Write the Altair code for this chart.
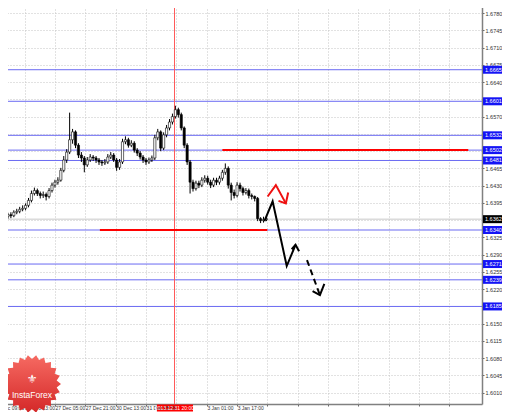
import math
import altair as alt
import pandas as pd

# ---------------- data ----------------
opens = [1.6365, 1.6367, 1.6371, 1.6369, 1.6376, 1.6378, 1.6382, 1.6384, 1.6390, 1.6400,
         1.6414, 1.6420, 1.6414, 1.6410, 1.6412, 1.6408, 1.6420, 1.6431, 1.6437, 1.6441,
         1.6461, 1.6482, 1.6498, 1.6523, 1.6539, 1.6512, 1.6492, 1.6486, 1.6472, 1.6482,
         1.6488, 1.6486, 1.6482, 1.6478, 1.6476, 1.6478, 1.6488, 1.6492, 1.6482, 1.6467,
         1.6478, 1.6519, 1.6523, 1.6512, 1.6516, 1.6502, 1.6496, 1.6488, 1.6482, 1.6478,
         1.6482, 1.6486, 1.6527, 1.6539, 1.6506, 1.6533, 1.6547, 1.6559, 1.6570, 1.6584,
         1.6574, 1.6547, 1.6512, 1.6478, 1.6437, 1.6424, 1.6435, 1.6431, 1.6441, 1.6445,
         1.6437, 1.6431, 1.6441, 1.6437, 1.6445, 1.6457, 1.6465, 1.6431, 1.6416, 1.6410,
         1.6431, 1.6424, 1.6416, 1.6420, 1.6410, 1.6408, 1.6404, 1.6363, 1.6359, 1.6361]
closes = [1.6367, 1.6371, 1.6369, 1.6376, 1.6378, 1.6382, 1.6384, 1.6390, 1.6400, 1.6414,
          1.6420, 1.6414, 1.6410, 1.6412, 1.6408, 1.6420, 1.6431, 1.6437, 1.6441, 1.6461,
          1.6482, 1.6498, 1.6523, 1.6539, 1.6512, 1.6492, 1.6486, 1.6472, 1.6482, 1.6488,
          1.6486, 1.6482, 1.6478, 1.6476, 1.6478, 1.6488, 1.6492, 1.6482, 1.6467, 1.6478,
          1.6519, 1.6523, 1.6512, 1.6516, 1.6502, 1.6496, 1.6488, 1.6482, 1.6478, 1.6482,
          1.6486, 1.6527, 1.6539, 1.6506, 1.6533, 1.6547, 1.6559, 1.6570, 1.6584, 1.6574,
          1.6547, 1.6512, 1.6478, 1.6437, 1.6424, 1.6435, 1.6431, 1.6441, 1.6445, 1.6437,
          1.6431, 1.6441, 1.6437, 1.6445, 1.6457, 1.6465, 1.6431, 1.6416, 1.6410, 1.6431,
          1.6424, 1.6416, 1.6420, 1.6410, 1.6408, 1.6404, 1.6363, 1.6359, 1.6361, 1.6363]
highs = [1.6372, 1.6375, 1.6376, 1.6380, 1.6383, 1.6387, 1.6390, 1.6394, 1.6405, 1.6420,
         1.6426, 1.6424, 1.6418, 1.6418, 1.6416, 1.6425, 1.6436, 1.6442, 1.6447, 1.6466,
         1.6490, 1.6504, 1.6578, 1.6545, 1.6542, 1.6516, 1.6498, 1.6490, 1.6488, 1.6494,
         1.6492, 1.6490, 1.6486, 1.6482, 1.6484, 1.6494, 1.6498, 1.6496, 1.6486, 1.6484,
         1.6525, 1.6530, 1.6527, 1.6522, 1.6520, 1.6506, 1.6500, 1.6492, 1.6486, 1.6487,
         1.6491, 1.6533, 1.6545, 1.6542, 1.6538, 1.6553, 1.6565, 1.6576, 1.6592, 1.6588,
         1.6578, 1.6550, 1.6516, 1.6482, 1.6442, 1.6440, 1.6440, 1.6447, 1.6451, 1.6450,
         1.6442, 1.6446, 1.6446, 1.6450, 1.6462, 1.6475, 1.6469, 1.6436, 1.6422, 1.6437,
         1.6436, 1.6428, 1.6425, 1.6424, 1.6414, 1.6410, 1.6407, 1.6366, 1.6367, 1.6366]
lows = [1.6360, 1.6363, 1.6364, 1.6366, 1.6372, 1.6374, 1.6378, 1.6380, 1.6386, 1.6396,
        1.6410, 1.6409, 1.6404, 1.6405, 1.6400, 1.6404, 1.6416, 1.6426, 1.6432, 1.6438,
        1.6457, 1.6476, 1.6494, 1.6515, 1.6506, 1.6486, 1.6478, 1.6457, 1.6468, 1.6478,
        1.6480, 1.6476, 1.6472, 1.6470, 1.6472, 1.6474, 1.6484, 1.6478, 1.6460, 1.6462,
        1.6474, 1.6514, 1.6507, 1.6508, 1.6497, 1.6490, 1.6483, 1.6476, 1.6472, 1.6474,
        1.6478, 1.6482, 1.6522, 1.6500, 1.6502, 1.6528, 1.6542, 1.6554, 1.6566, 1.6568,
        1.6542, 1.6506, 1.6472, 1.6414, 1.6418, 1.6420, 1.6425, 1.6427, 1.6436, 1.6432,
        1.6425, 1.6427, 1.6431, 1.6432, 1.6440, 1.6452, 1.6424, 1.6400, 1.6404, 1.6406,
        1.6418, 1.6410, 1.6412, 1.6404, 1.6402, 1.6398, 1.6358, 1.6354, 1.6355, 1.6358]

# horizontal levels (blue) with their price boxes
level_prices = [1.6665, 1.6601, 1.6532, 1.6502, 1.6481, 1.6340, 1.6271, 1.6239, 1.6185]
level_labels = ["1.6665", "1.6601", "1.6532", "1.6502", "1.6481", "1.6340", "1.6271", "1.6239", "1.6185"]
bid_price = 1.6362
bid_label = "1.6362"

# red support / resistance segments (bar index start, end, price)
red_start = [74.0, 32.3]
red_end = [157.7, 89.3]
red_price = [1.6502, 1.6340]

# red vertical marker (bar index) and its date label
marker_bar = 57.7
marker_label = "2013.12.31 20:00"
marker_box = [51.7, 64.0]

# forecast paths (bar index, price)
red_arrow_x = [89.4, 92.2, 95.6]
red_arrow_p = [1.6408, 1.6431, 1.6394]
red_head_x = [93.1, 95.6, 96.4]
red_head_p = [1.6399, 1.6394, 1.6416]
black_x = [88.3, 91.1, 95.9, 98.9]
black_p = [1.6358, 1.6398, 1.6267, 1.6310]
black_head_x = [97.6, 98.9, 100.1]
black_head_p = [1.6301, 1.6310, 1.6297]
dash_x = [102.8, 107.2]
dash_p = [1.6279, 1.6208]
dash_head_x = [104.7, 107.2, 108.7]
dash_head_p = [1.6216, 1.6208, 1.6231]

# axis ticks / labels
y_ticks = [1.6780, 1.6745, 1.6710, 1.6675, 1.6640, 1.6605, 1.6570, 1.6535, 1.6500,
           1.6465, 1.6430, 1.6395, 1.6360, 1.6325, 1.6290, 1.6255, 1.6220, 1.6185,
           1.6150, 1.6115, 1.6080, 1.6045, 1.6010]
x_grid = [6.7, 17.0, 27.3, 37.7, 48.0, 58.3, 68.7, 79.0, 89.3, 99.7, 110.0,
          120.3, 130.7, 141.0, 151.3]
x_label_text = ["24 Dec 09:00", "26 Dec 13:00", "27 Dec 05:00", "27 Dec 21:00",
                "30 Dec 13:00", "31 Dec 05:00", "3 Jan 01:00", "3 Jan 17:00"]
x_label_pos = [-3.6, 6.9, 17.2, 27.5, 37.9, 48.2, 68.9, 79.2]

# ---------------- build chart ----------------
FONT = "Liberation Sans"
W, H = 482, 404
xs = alt.Scale(domain=[0, 160.67], nice=False, zero=False)
ys = alt.Scale(domain=[1.59872, 1.68064], nice=False, zero=False)

X_AXIS = alt.Axis(values=x_grid, labels=False, grid=True, gridDash=[1, 2],
                  gridColor="#c4c4c4", tickSize=2, tickColor="#666",
                  domainColor="#808080", domainWidth=1.5, orient="bottom", title=None)
Y_AXIS = alt.Axis(values=y_ticks, format=".4f", orient="right", grid=True,
                  gridDash=[1, 2], gridColor="#c4c4c4", tickSize=2,
                  tickColor="#666", labelPadding=1, labelFontSize=5.5,
                  labelFont=FONT, labelColor="#333", domainColor="#808080",
                  domainWidth=1.5, title=None)


def X(field):
    return alt.X(field, scale=xs, axis=X_AXIS)


def Y(field):
    return alt.Y(field, scale=ys, axis=Y_AXIS)


candles = pd.DataFrame({
    "i": list(range(len(closes))),
    "o": opens, "h": highs, "l": lows, "c": closes,
})
candles["bull"] = candles["c"] >= candles["o"]

lv = pd.DataFrame({"p": level_prices, "lab": level_labels})

grid = alt.Chart(pd.DataFrame({"i": [0.0], "p": [1.65]})).mark_point(opacity=0).encode(
    x=X("i:Q"), y=Y("p:Q"))

blue_lines = alt.Chart(lv).mark_rule(color="#6a6af2", strokeWidth=1).encode(y=Y("p:Q"))
bid_line = alt.Chart(pd.DataFrame({"p": [bid_price]})).mark_rule(
    color="#c8c8c8", strokeWidth=1).encode(y=Y("p:Q"))
vline = alt.Chart(pd.DataFrame({"i": [marker_bar]})).mark_rule(
    color="#ff5a5a", strokeWidth=1).encode(x=X("i:Q"))
red_seg = alt.Chart(pd.DataFrame({"a": red_start, "b": red_end, "p": red_price})).mark_rule(
    color="#ff0000", strokeWidth=2).encode(x=X("a:Q"), x2="b:Q", y=Y("p:Q"))

wicks = alt.Chart(candles).mark_rule(color="black", strokeWidth=1).encode(
    x=X("i:Q"), y=Y("l:Q"), y2="h:Q")
bodies = alt.Chart(candles).mark_bar(size=2.2, stroke="black", strokeWidth=0.6).encode(
    x=X("i:Q"), y=Y("o:Q"), y2="c:Q",
    fill=alt.condition("datum.bull", alt.value("white"), alt.value("black")))


def path(xv, pv, color, dash=None, width=2):
    df = pd.DataFrame({"x": xv, "p": pv, "k": list(range(len(xv)))})
    kw = dict(color=color, strokeWidth=width, strokeJoin="miter", strokeCap="butt")
    if dash:
        kw["strokeDash"] = dash
    return alt.Chart(df).mark_line(**kw).encode(x=X("x:Q"), y=Y("p:Q"), order="k:Q")


arrows = [
    path(red_arrow_x, red_arrow_p, "#ee1111"),
    path(red_head_x, red_head_p, "#ee1111"),
    path(black_x, black_p, "black"),
    path(black_head_x, black_head_p, "black"),
    path(dash_x, dash_p, "black", dash=[6, 4]),
    path(dash_head_x, dash_head_p, "black"),
]

# price boxes on the right axis
box_blue = alt.Chart(lv).mark_rule(color="#1414f5", strokeWidth=8).encode(
    x=alt.value(483), x2=alt.value(503), y=Y("p:Q"))
box_blue_t = alt.Chart(lv).mark_text(align="left", baseline="middle", color="white",
                                     fontSize=5.5, font=FONT).encode(
    x=alt.value(485), y=Y("p:Q"), text="lab:N")
bidf = pd.DataFrame({"p": [bid_price], "lab": [bid_label]})
box_bid = alt.Chart(bidf).mark_rule(color="black", strokeWidth=8).encode(
    x=alt.value(483), x2=alt.value(503), y=Y("p:Q"))
box_bid_t = alt.Chart(bidf).mark_text(align="left", baseline="middle", color="white",
                                      fontSize=5.5, font=FONT).encode(
    x=alt.value(485), y=Y("p:Q"), text="lab:N")

# x labels
xl = alt.Chart(pd.DataFrame({"x": x_label_pos, "t": x_label_text})).mark_text(
    align="left", baseline="middle", fontSize=5, font=FONT, color="#333").encode(
    x=X("x:Q"), y=alt.value(408), text="t:N")
mk_box = alt.Chart(pd.DataFrame({"a": [marker_box[0]], "b": [marker_box[1]]})).mark_rule(
    color="#ff0000", strokeWidth=7).encode(x=X("a:Q"), x2="b:Q", y=alt.value(408))
mk_text = alt.Chart(pd.DataFrame({"x": [marker_bar], "t": [marker_label]})).mark_text(
    align="center", baseline="middle", fontSize=5, font=FONT, color="white").encode(
    x=X("x:Q"), y=alt.value(408), text="t:N")

# InstaForex badge
pts = []
n = 22
for k in range(2 * n):
    r = 1.0 if k % 2 == 0 else 0.86
    a = math.pi * k / n
    pts.append(f"{r * math.cos(a):.3f},{r * math.sin(a):.3f}")
burst = "M" + "L".join(pts) + "Z"
grad = alt.Gradient(gradient="linear", x1=0, x2=0, y1=0, y2=1,
                    stops=[alt.GradientStop(color="#f66a62", offset=0),
                           alt.GradientStop(color="#d42828", offset=1)])
one = pd.DataFrame({"a": [0]})
badge = alt.Chart(one).mark_point(shape=burst, size=3364, filled=True, fill=grad,
                                  strokeWidth=0, opacity=1).encode(
    x=alt.value(32), y=alt.value(384))
badge_icon = alt.Chart(one).mark_text(text="⚜", fontSize=12, color="white",
                                      font="DejaVu Sans").encode(
    x=alt.value(32), y=alt.value(379))
badge_t = alt.Chart(one).mark_text(text="InstaForex", fontSize=8.5, color="white",
                                   font=FONT).encode(x=alt.value(32), y=alt.value(395))

chart = alt.layer(
    grid, blue_lines, bid_line, vline, red_seg, wicks, bodies, *arrows,
    box_blue, box_blue_t, box_bid, box_bid_t, mk_box, xl, mk_text,
    badge, badge_icon, badge_t,
).properties(
    width=W, height=H,
    autosize=alt.AutoSizeParams(type="none"),
    padding={"left": -8, "top": -8, "right": 20, "bottom": 8},
    background="white",
).configure_view(stroke=None)

chart.save("out.html", embed_options={"renderer": "svg", "actions": False})
